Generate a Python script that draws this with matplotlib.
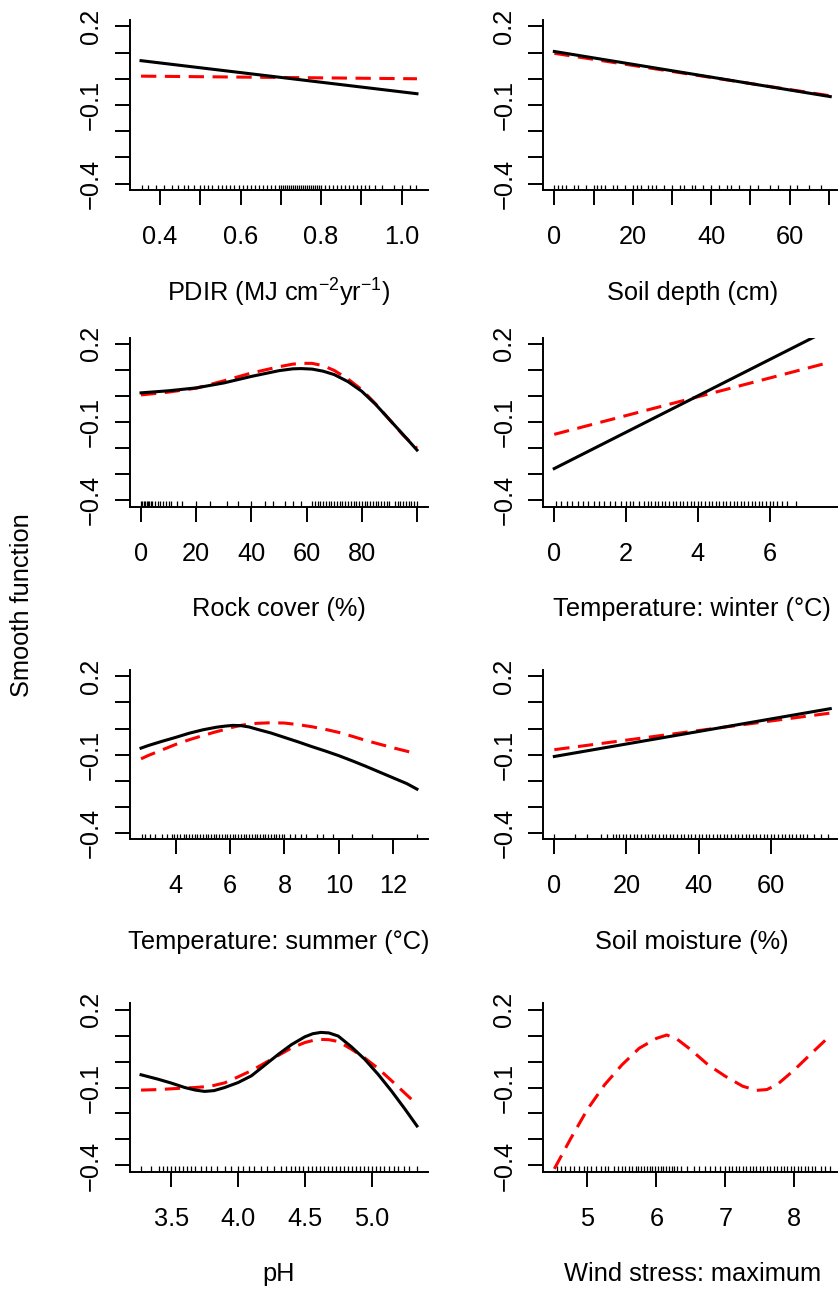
import matplotlib.pyplot as plt

plt.rcParams["font.family"] = ["Liberation Sans", "DejaVu Sans"]
plt.rcParams["mathtext.default"] = "regular"

W, H = 838, 1292
FS = 18.3

# ---- data ----
# PDIR
pdir_x = [0.353, 1.038]
pdir_black = [0.069, -0.057]
pdir_red = [0.010, 0.000]
pdir_rug = [0.355, 0.37, 0.39, 0.41, 0.43, 0.445, 0.46, 0.47, 0.485, 0.5, 0.51, 0.52,
            0.53, 0.545, 0.555, 0.565, 0.575, 0.585, 0.595, 0.605, 0.615, 0.625, 0.635,
            0.645, 0.655, 0.665, 0.675, 0.685, 0.695, 0.7, 0.705, 0.71, 0.715, 0.72,
            0.725, 0.73, 0.735, 0.74, 0.745, 0.75, 0.755, 0.76, 0.765, 0.77, 0.775,
            0.78, 0.785, 0.79, 0.795, 0.8, 0.81, 0.82, 0.83, 0.84, 0.85, 0.86, 0.87,
            0.88, 0.89, 0.9, 0.91, 0.92, 0.935, 0.95, 0.98, 1.0, 1.02, 1.035]

# Soil depth
depth_x = [0, 70.4]
depth_black = [0.104, -0.068]
depth_red = [0.097, -0.065]
depth_rug = [0, 1, 2, 3, 5, 6, 8, 10, 11, 12, 13, 15, 16, 18, 20, 21, 22, 24, 25, 26,
             28, 30, 32, 33, 35, 36, 38, 40, 42, 44, 45, 47, 50, 52, 55, 57, 60, 62,
             65, 68]

# Rock cover
rock_x = [0, 10, 20, 30, 40, 50, 55, 58, 62, 66, 70, 75, 80, 85, 90, 95, 100]
rock_black = [0.012, 0.020, 0.031, 0.050, 0.075, 0.097, 0.104, 0.105, 0.103, 0.095,
              0.082, 0.055, 0.018, -0.032, -0.090, -0.148, -0.207]
rock_red = [0.004, 0.015, 0.030, 0.058, 0.088, 0.112, 0.122, 0.125, 0.125, 0.116,
            0.098, 0.065, 0.024, -0.030, -0.090, -0.150, -0.200]
rock_rug = [0, 0.5, 1, 1.5, 2, 2.5, 3, 3.5, 4, 5, 6, 7, 8, 9, 10, 11, 13, 15, 20, 25,
            31, 35, 40, 45, 48, 52, 55, 58, 62, 63, 64, 65, 66, 67, 68, 69, 70, 71, 72,
            73, 74, 75, 76, 77, 78, 79, 80, 81, 82, 83, 84, 85, 86, 87, 88, 89, 90, 92,
            93, 94, 95, 96, 97, 98, 99, 100]

# Temperature: winter
winter_x = [0, 7.62]
winter_black = [-0.278, 0.252]
winter_red = [-0.147, 0.127]
winter_rug = [0.05, 0.2, 0.35, 0.5, 0.65, 0.8, 0.95, 1.1, 1.25, 1.4, 1.55, 1.7, 1.85,
              2.0, 2.1, 2.2, 2.35, 2.5, 2.6, 2.7, 2.8, 2.9, 3.0, 3.1, 3.2, 3.3, 3.4,
              3.5, 3.6, 3.7, 3.8, 3.9, 4.0, 4.1, 4.2, 4.3, 4.4, 4.5, 4.6, 4.7, 4.8,
              4.9, 5.0, 5.1, 5.2, 5.3, 5.4, 5.5, 5.6, 5.7, 5.8, 5.9, 6.0, 6.1, 6.2,
              6.35, 6.5, 6.75]

# Temperature: summer
summer_x = [2.73, 3.0, 3.5, 4.0, 4.5, 5.0, 5.5, 5.8, 6.1, 6.4, 6.7, 7.0, 7.5, 8.0,
            8.5, 9.0, 9.5, 10.0, 10.5, 11.0, 11.5, 12.0, 12.5, 12.87]
summer_black = [-0.075, -0.065, -0.049, -0.034, -0.018, -0.005, 0.005, 0.009, 0.012,
                0.011, 0.006, -0.003, -0.017, -0.034, -0.051, -0.069, -0.086, -0.104,
                -0.124, -0.145, -0.167, -0.189, -0.211, -0.232]
summer_red = [-0.116, -0.103, -0.082, -0.061, -0.043, -0.027, -0.012, -0.004, 0.005,
              0.012, 0.017, 0.020, 0.022, 0.021, 0.015, 0.007, -0.003, -0.015, -0.030,
              -0.046, -0.060, -0.074, -0.087, -0.097]
summer_rug = [2.75, 2.87, 3.06, 3.24, 3.49, 3.7, 3.85, 3.95, 4.05, 4.15, 4.3, 4.4, 4.5,
              4.6, 4.7, 4.8, 4.9, 5.0, 5.1, 5.2, 5.3, 5.4, 5.5, 5.6, 5.7, 5.8, 5.9,
              6.0, 6.1, 6.2, 6.3, 6.4, 6.5, 6.6, 6.7, 6.8, 6.9, 7.0, 7.1, 7.2, 7.3,
              7.4, 7.5, 7.6, 7.7, 7.8, 7.9, 8.0, 8.2, 8.4, 8.6, 8.8, 9.18, 9.43, 9.8,
              10.5, 11.2, 12.86]

# Soil moisture
moist_x = [0, 76.5]
moist_black = [-0.107, 0.076]
moist_red = [-0.081, 0.059]
moist_rug = [0, 5.7, 9, 13, 14.5, 16.4] + list(range(17, 71)) + [72, 74, 76]

# pH
ph_x = [3.273, 3.4, 3.5, 3.6, 3.68, 3.75, 3.82, 3.9, 4.0, 4.1, 4.2, 4.3, 4.4, 4.5,
        4.56, 4.62, 4.68, 4.75, 4.85, 4.95, 5.05, 5.15, 5.25, 5.34]
ph_black = [-0.051, -0.068, -0.083, -0.100, -0.110, -0.115, -0.112, -0.100, -0.081,
            -0.055, -0.014, 0.027, 0.065, 0.095, 0.107, 0.112, 0.110, 0.098, 0.056,
            0.008, -0.050, -0.114, -0.183, -0.248]
ph_red = [-0.110, -0.108, -0.105, -0.102, -0.100, -0.097, -0.092, -0.082, -0.059,
          -0.035, -0.006, 0.023, 0.052, 0.073, 0.081, 0.085, 0.084, 0.077, 0.047,
          0.013, -0.027, -0.074, -0.122, -0.165]
ph_rug = [3.27, 3.35, 3.41, 3.44, 3.47, 3.5, 3.53, 3.56, 3.59, 3.62, 3.65, 3.68, 3.72,
          3.76, 3.8, 3.84, 3.9, 3.95, 4.0, 4.04, 4.08, 4.12, 4.17, 4.22, 4.27, 4.32,
          4.36, 4.4, 4.43, 4.46, 4.49, 4.52, 4.55, 4.58, 4.61, 4.64, 4.67, 4.7, 4.73,
          4.76, 4.79, 4.82, 4.85, 4.88, 4.91, 4.94, 4.97, 5.0, 5.03, 5.06, 5.09, 5.13,
          5.17, 5.2, 5.24, 5.28, 5.34]

# Wind stress: maximum (only the red smooth)
wind_x = [4.52, 4.75, 5.0, 5.25, 5.5, 5.75, 6.0, 6.15, 6.3, 6.5, 6.75, 7.0, 7.25, 7.45,
          7.6, 7.75, 8.0, 8.25, 8.52]
wind_red = [-0.413, -0.300, -0.184, -0.089, -0.013, 0.051, 0.089, 0.102, 0.086, 0.045,
            -0.013, -0.057, -0.095, -0.111, -0.108, -0.089, -0.032, 0.032, 0.100]
wind_rug = [4.56, 4.62, 4.68, 4.75, 4.8, 4.88, 4.95, 5.0, 5.05, 5.12, 5.2, 5.25, 5.3,
            5.38, 5.45, 5.5, 5.55, 5.6, 5.65, 5.7, 5.74, 5.78, 5.82, 5.86, 5.9, 5.94,
            5.98, 6.02, 6.06, 6.1, 6.14, 6.18, 6.22, 6.26, 6.3, 6.36, 6.45, 6.55, 6.62,
            6.7, 6.78, 6.85, 6.92, 7.0, 7.05, 7.1, 7.15, 7.2, 7.25, 7.3, 7.35, 7.4,
            7.45, 7.5, 7.55, 7.6, 7.65, 7.7, 7.75, 7.8, 7.85, 7.9, 7.95, 8.0, 8.05,
            8.1, 8.15, 8.2, 8.25, 8.3, 8.38, 8.45, 8.52]

y_ticks = [-0.4, -0.3, -0.2, -0.1, 0.0, 0.1, 0.2]
y_labels = ["\u22120.4", "", "", "\u22120.1", "", "", "0.2"]

panels = [
    (0, 0, pdir_x, pdir_black, pdir_red, pdir_rug,
     [0.4, 0.5, 0.6, 0.7, 0.8, 0.9, 1.0], ["0.4", "", "0.6", "", "0.8", "", "1.0"],
     "PDIR (MJ cm$^{-2}$yr$^{-1}$)"),
    (0, 1, depth_x, depth_black, depth_red, depth_rug,
     [0, 10, 20, 30, 40, 50, 60, 70], ["0", "", "20", "", "40", "", "60", ""],
     "Soil depth (cm)"),
    (1, 0, rock_x, rock_black, rock_red, rock_rug,
     [0, 20, 40, 60, 80, 100], ["0", "20", "40", "60", "80", ""],
     "Rock cover (%)"),
    (1, 1, winter_x, winter_black, winter_red, winter_rug,
     [0, 2, 4, 6, 8], ["0", "2", "4", "6", ""],
     "Temperature: winter (\u00b0C)"),
    (2, 0, summer_x, summer_black, summer_red, summer_rug,
     [4, 6, 8, 10, 12], ["4", "6", "8", "10", "12"],
     "Temperature: summer (\u00b0C)"),
    (2, 1, moist_x, moist_black, moist_red, moist_rug,
     [0, 20, 40, 60], ["0", "20", "40", "60"],
     "Soil moisture (%)"),
    (3, 0, ph_x, ph_black, ph_red, ph_rug,
     [3.5, 4.0, 4.5, 5.0], ["3.5", "4.0", "4.5", "5.0"],
     "pH"),
    (3, 1, wind_x, None, wind_red, wind_rug,
     [5, 6, 7, 8], ["5", "6", "7", "8"],
     "Wind stress: maximum"),
]

# panel frames in pixels (top-left origin)
col_left = [130, 543.3]
row_span = [(20, 190), (337.5, 506.7), (670, 839.3), (1003.3, 1171.7)]
ax_w = 298

fig = plt.figure(figsize=(W / 100, H / 100), dpi=100)

for row, col, x, black, red, rug, xt, xtl, xlab in panels:
    top, bot = row_span[row]
    ax = fig.add_axes([col_left[col] / W, 1 - bot / H, ax_w / W, (bot - top) / H])

    ax.plot(x, red, color="red", lw=2.2, dashes=(5, 2.8), zorder=3)
    if black is not None:
        ax.plot(x, black, color="black", lw=2.2, zorder=4)
    ax.vlines(rug, 0, 0.032, transform=ax.get_xaxis_transform(),
              colors="black", lw=0.9, zorder=2)

    r = max(x) - min(x)
    ax.set_xlim(min(x) - 0.04 * r, max(x) + 0.04 * r)
    ax.set_ylim(-0.4 - 0.024, 0.2 + 0.024)

    ax.set_xticks(xt)
    ax.set_xticklabels(xtl)
    ax.set_yticks(y_ticks)
    ax.set_yticklabels(y_labels)
    for lab in ax.get_yticklabels():
        lab.set_rotation(90)
        lab.set_va("center")

    for s in ("top", "right"):
        ax.spines[s].set_visible(False)
    for s in ("left", "bottom"):
        ax.spines[s].set_linewidth(1.4)
    ax.tick_params(axis="both", direction="out", length=10.8, width=1.4,
                   labelsize=FS)
    ax.tick_params(axis="x", pad=14.5)
    ax.tick_params(axis="y", pad=8.5)

    ax.annotate(xlab, xy=(0.5, 0), xycoords="axes fraction",
                xytext=(0, -74), textcoords="offset points",
                ha="center", va="center", fontsize=FS)

fig.text(22 / W, 1 - 605 / H, "Smooth function", rotation=90,
         ha="center", va="center", fontsize=FS)

fig.savefig("out.png", dpi=100)
